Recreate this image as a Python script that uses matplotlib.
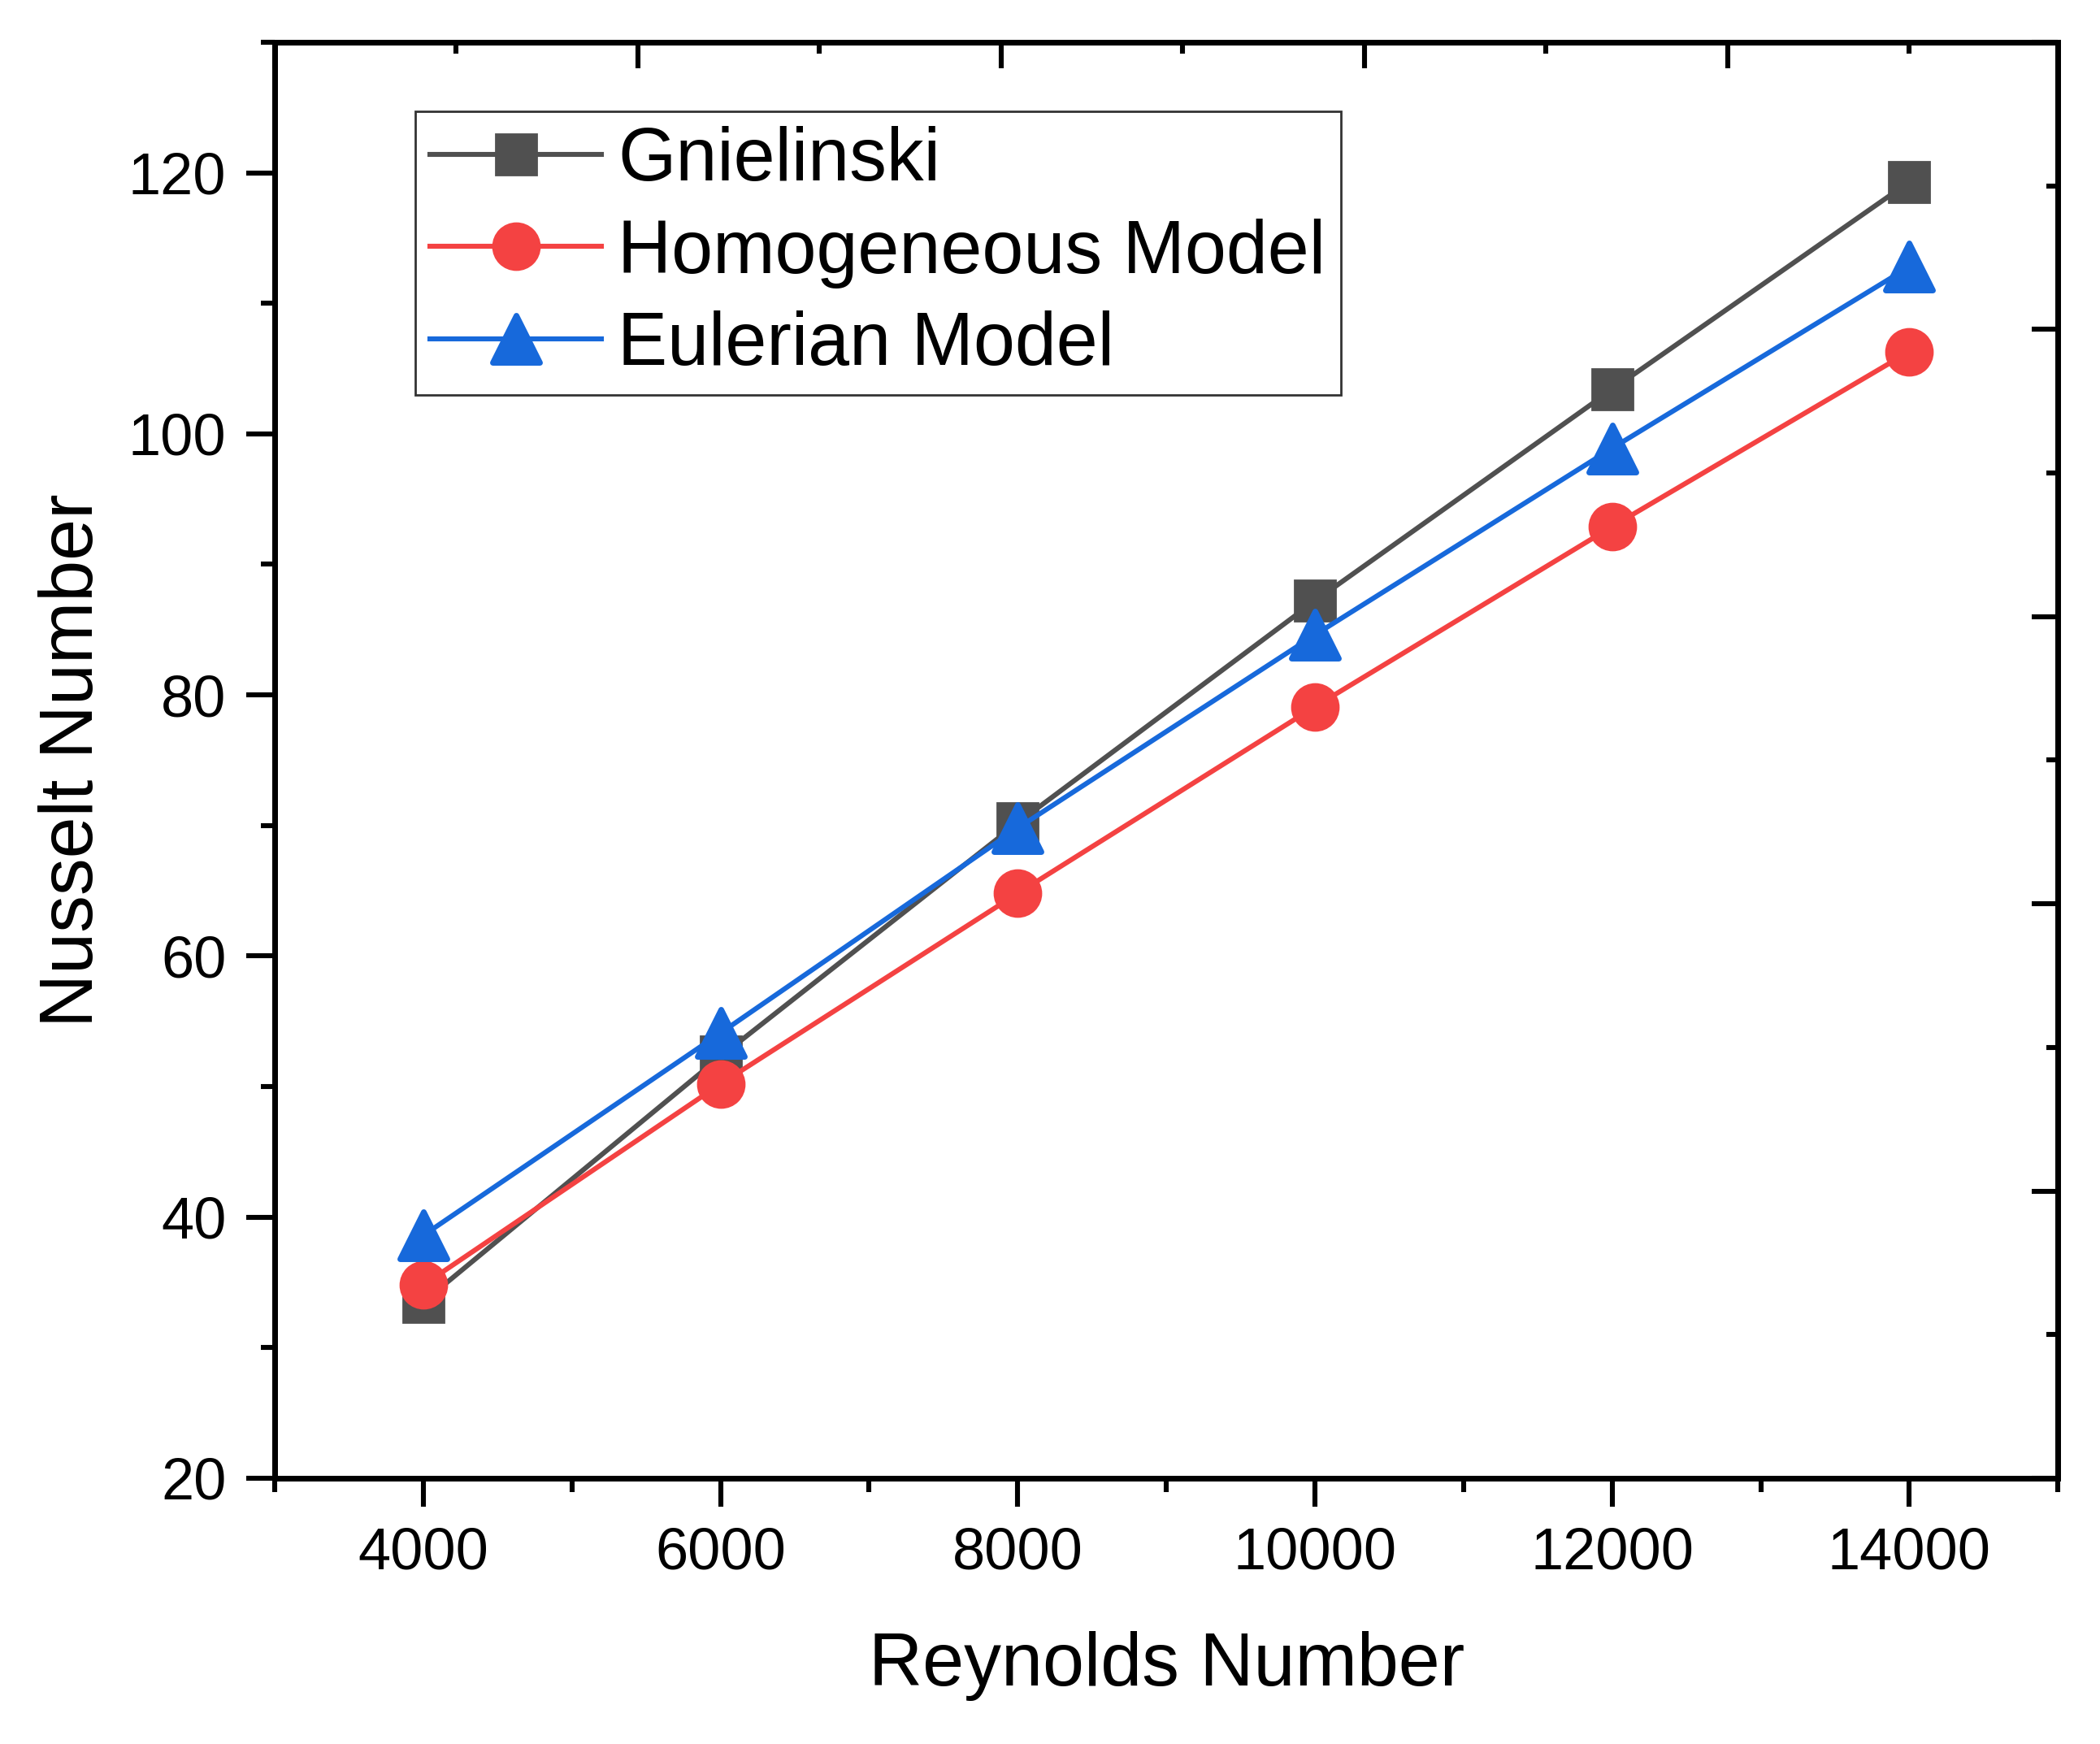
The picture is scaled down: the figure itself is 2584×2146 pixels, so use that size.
import matplotlib
matplotlib.use("Agg")
import matplotlib.pyplot as plt
from matplotlib.markers import MarkerStyle
from matplotlib.ticker import MultipleLocator, AutoMinorLocator

plt.rcParams['font.family'] = ['Liberation Sans', 'DejaVu Sans']

reynolds = [4000, 6000, 8000, 10000, 12000, 14000]
gnielinski = [33.5, 52.3, 70.2, 87.2, 103.4, 119.3]
homogeneous = [34.8, 50.2, 64.8, 79.1, 92.9, 106.3]
eulerian = [38.6, 54.1, 69.8, 84.6, 98.9, 112.8]

labels = ["Gnielinski", "Homogeneous Model", "Eulerian Model"]
colors = ['#505050', '#F44242', '#1769DB']

fig = plt.figure(figsize=(12.92, 10.73), dpi=200)
ax = fig.add_axes([0.1308, 0.1524, 0.8492, 0.8234])

lw = 2.2
ax.plot(reynolds, gnielinski, color=colors[0], lw=lw, marker='s', ms=18,
        label=labels[0])
ax.plot(reynolds, homogeneous, color=colors[1], lw=lw, marker='o', ms=20.5,
        label=labels[1])
ax.plot(reynolds, eulerian, color=colors[2], lw=lw,
        marker=MarkerStyle('^', joinstyle='round'), ms=21, mew=2.5,
        label=labels[2])

ax.set_xlim(3000, 15000)
ax.set_ylim(20, 130)
ax.xaxis.set_major_locator(MultipleLocator(2000))
ax.xaxis.set_minor_locator(AutoMinorLocator(2))
ax.yaxis.set_major_locator(MultipleLocator(20))
ax.yaxis.set_minor_locator(AutoMinorLocator(2))

spw = 2.4
for s in ax.spines.values():
    s.set_linewidth(spw)

ax.tick_params(which='major', direction='out', length=12.5, width=2.2,
               labelsize=26, pad=9)
ax.tick_params(which='minor', direction='out', length=6, width=2.2)

ax.set_xlabel("Reynolds Number", fontsize=33, labelpad=22)
ax.set_ylabel("Nusselt Number", fontsize=33, labelpad=9)

# the right and top frames carry their own unlabeled scales
ax_r = ax.twinx()
ax_r.set_ylim(0, 10)
ax_r.yaxis.set_major_locator(MultipleLocator(2))
ax_r.yaxis.set_minor_locator(MultipleLocator(1))
ax_r.tick_params(axis='y', which='major', direction='in', length=11.5,
                 width=2.2, labelright=False)
ax_r.tick_params(axis='y', which='minor', direction='in', length=5,
                 width=2.2)

ax_t = ax.twiny()
ax_t.set_xlim(0, 9.82)
ax_t.xaxis.set_major_locator(MultipleLocator(2))
ax_t.xaxis.set_minor_locator(MultipleLocator(1))
ax_t.tick_params(axis='x', which='major', direction='in', length=11.5,
                 width=2.2, labeltop=False)
ax_t.tick_params(axis='x', which='minor', direction='in', length=5,
                 width=2.2)
for a in (ax_r, ax_t):
    for s in a.spines.values():
        s.set_linewidth(spw)

leg = ax.legend(loc='upper left', bbox_to_anchor=(0.0789, 0.952),
                fontsize=33, frameon=True, fancybox=False, edgecolor='black',
                handlelength=2.3, handletextpad=0.22, labelspacing=0.3,
                borderpad=0.2, borderaxespad=0)
leg.get_frame().set_linewidth(1.0)
leg.set_zorder(5)

fig.savefig("out.png", dpi=200, facecolor='white')
